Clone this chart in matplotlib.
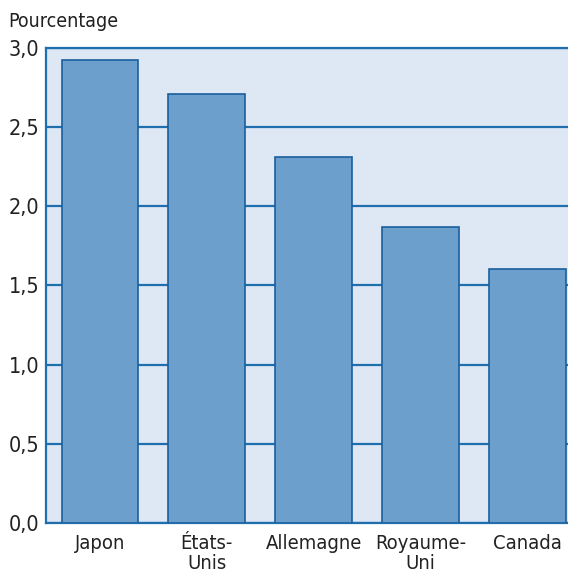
import matplotlib
matplotlib.use('Agg')
import matplotlib.pyplot as plt
import numpy as np

''' Part du PIB par pays, barres verticales '''

pays = ['Japon', 'États-\nUnis', 'Allemagne', 'Royaume-\nUni', 'Canada']
valeurs = [2.92, 2.71, 2.31, 1.87, 1.60]
yticks = [0.0, 0.5, 1.0, 1.5, 2.0, 2.5, 3.0]

plt.rcParams['font.family'] = ['Liberation Sans Narrow', 'DejaVu Sans']
plt.rcParams['font.stretch'] = 'condensed'

fig = plt.figure(figsize=(5.68, 5.73), dpi=100)
ax = fig.add_axes([0.081, 0.0873, 0.943, 0.8295])
ax.set_facecolor('#dde8f4')

x = np.arange(len(pays))
ax.bar(x, valeurs, width=0.72, color='#6d9fcc', edgecolor='#1a5f9e',
       linewidth=1.2, zorder=3)

ax.set_xlim(-0.505, len(pays) - 0.495)
ax.set_ylim(0, 3.0)
ax.set_yticks(yticks)
ax.set_yticklabels([f'{v:.1f}'.replace('.', ',') for v in yticks])
ax.set_xticks(x)
ax.set_xticklabels(pays, linespacing=1.05, va='top')
ax.tick_params(axis='both', length=0, colors='#222222')
ax.tick_params(axis='x', pad=8, labelsize=14.5)
ax.tick_params(axis='y', pad=5, labelsize=15.5)

## lignes horizontales derriere les barres
ax.yaxis.grid(True, color='#1f6fae', linewidth=1.6, zorder=1)
ax.set_axisbelow(True)

for side in ['left', 'top', 'bottom', 'right']:
    ax.spines[side].set_color('#1f6fae')
    ax.spines[side].set_linewidth(1.6)

fig.text(0.014, 0.962, 'Pourcentage', fontsize=14, color='#222222', va='center')

fig.savefig('out.png', dpi=100)
